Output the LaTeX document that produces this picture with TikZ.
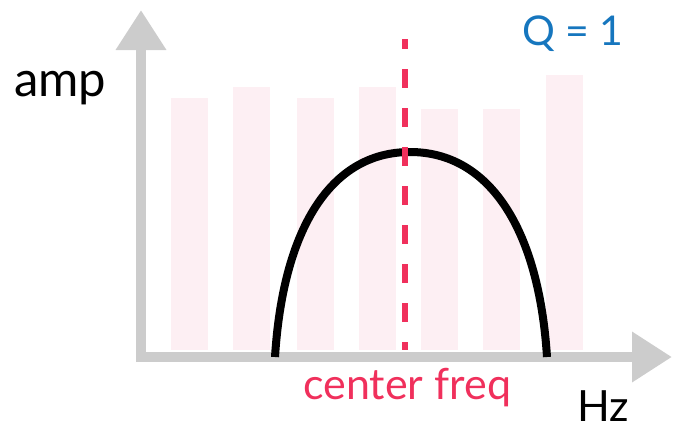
\documentclass[tikz,border=0pt]{standalone}
\usepackage{fontspec}
\setmainfont{Lato}
\usetikzlibrary{arrows.meta}
\definecolor{axisgray}{RGB}{204,204,204}
\definecolor{barpink}{RGB}{253,239,243}
\definecolor{centerred}{RGB}{240,48,92}
\definecolor{qblue}{RGB}{22,118,190}
\begin{document}
\begin{tikzpicture}[x=1pt, y=-1pt,
  axis/.style={axisgray, line width=10pt, -{Triangle[length=40pt, width=48pt]}},
  lbl/.style={inner sep=0pt, anchor=base west}]
\useasboundingbox (0,0) rectangle (673,432);
% background bars
\foreach \x/\t in {171/98, 233/87, 297/98, 359/87, 421/109, 483/109, 546/75}
  {\fill[barpink] (\x,\t) rectangle (\x+37,350);}
% axes
\coordinate (origin) at (141,357);
\coordinate (ytip) at (141,10);
\coordinate (xtip) at (672,357);
\draw[axis] (141,362) -- (ytip);
\draw[axis] (136,357) -- (xtip);
% filter curve
\draw[line width=8pt, black] (275,357) .. controls (283,230) and (330,152) .. (410,152)
  .. controls (490,152) and (539,230) .. (547,357);
% center frequency
\coordinate (cftop) at (405,39);
\coordinate (cfbot) at (405,350);
\draw[centerred, line width=6pt, dash pattern=on 19pt off 20pt, dash phase=9pt] (cftop) -- (cfbot);
% labels
\node[lbl, font=\fontsize{49}{52}\selectfont] (amp) at (14,96) {amp};
\node[lbl, font=\fontsize{41}{44}\selectfont, text=qblue] (q) at (522,45) {Q = 1};
\node[lbl, font=\fontsize{43}{46}\selectfont, text=centerred] (cfreq) at (303,399) {center freq};
\node[lbl, font=\fontsize{43}{46}\selectfont] (hz) at (577,421) {Hz};
\end{tikzpicture}
\end{document}
